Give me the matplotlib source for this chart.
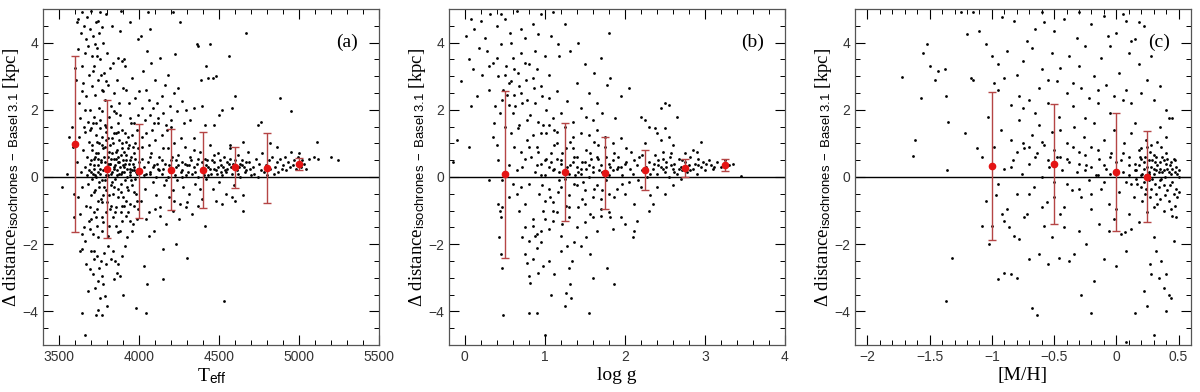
import matplotlib
matplotlib.use("Agg")
import matplotlib.pyplot as plt
from matplotlib.ticker import MultipleLocator, FuncFormatter

plt.rcParams["font.family"] = ["Liberation Sans", "DejaVu Sans"]
plt.rcParams["mathtext.fontset"] = "custom"
plt.rcParams["mathtext.rm"] = "Liberation Serif"
plt.rcParams["mathtext.it"] = "Liberation Serif:italic"
plt.rcParams["mathtext.sf"] = "Liberation Sans"
SERIF = ["Liberation Serif", "DejaVu Serif"]

# --- binned means with scatter (red points) ---
teff_bins = [3600, 3800, 4000, 4200, 4400, 4600, 4800, 5000]
teff_mean = [0.99, 0.24, 0.17, 0.22, 0.21, 0.29, 0.27, 0.39]
teff_sig = [2.62, 2.06, 1.40, 1.20, 1.12, 0.61, 1.04, 0.19]

logg_bins = [0.5, 1.25, 1.75, 2.25, 2.75, 3.25]
logg_mean = [0.08, 0.16, 0.12, 0.20, 0.27, 0.36]
logg_sig = [2.48, 1.46, 1.07, 0.60, 0.28, 0.19]

mh_bins = [-1.0, -0.5, 0.0, 0.25]
mh_mean = [0.32, 0.38, 0.15, 0.01]
mh_sig = [2.20, 1.78, 1.75, 1.35]

# --- individual stars ---
teff_pts = [
    (3610,4.6),(3620,4.7),(3635,4.3),(3645,4.9),(3655,4.5),(3665,4.1),(3672,4.75),(3680,3.9),
    (3690,4.4),(3700,4.95),(3705,3.6),(3712,4.2),(3720,3.3),(3728,4.6),(3735,3.85),(3742,2.9),
    (3750,4.3),(3758,3.5),(3765,2.6),(3772,4.0),(3780,3.1),(3788,2.3),(3795,4.85),(3800,3.7),
    (3808,2.75),(3815,3.25),(3822,2.1),(3830,4.5),(3838,3.4),(3845,2.5),(3852,1.9),(3860,2.9),
    (3868,3.55),(3876,2.2),(3884,4.95),(3892,3.45),(3900,2.65),(3640,3.3),(3650,2.8),(3660,3.7),
    (3670,2.4),(3685,3.05),(3695,2.0),(3708,2.7),(3716,1.8),(3724,2.45),(3732,1.6),(3738,3.6),
    (3746,2.05),(3754,1.7),(3762,3.05),(3770,1.95),(3776,2.55),(3784,1.55),(3792,2.85),(3598,3.25),
    (3606,2.9),(3615,3.8),(3625,2.2),(3632,1.75),(3642,2.55),(3652,1.5),(3662,2.0),(3677,1.65),
    (3698,1.45),(3710,3.15),(3726,3.95),(3744,4.65),(3756,4.9),(3768,4.45),(3790,1.35),(3810,1.8),
    (3826,1.5),(3840,1.95),(3856,1.3),(3870,1.6),(3882,1.85),(3895,1.4),
    (3610,0.45),(3618,-0.6),(3625,1.2),(3632,-1.1),(3638,0.15),(3645,-0.3),(3650,0.8),(3655,-1.5),
    (3660,0.3),(3664,1.35),(3668,-0.85),(3672,0.05),(3676,0.6),(3680,-0.2),(3684,1.05),(3688,-1.3),
    (3692,0.4),(3696,-0.55),(3700,0.15),(3704,0.95),(3708,-0.05),(3712,-1.7),(3716,0.55),(3720,0.25),
    (3724,-0.4),(3728,1.25),(3732,0.0),(3736,-0.95),(3740,0.7),(3744,0.35),(3748,-0.15),(3752,1.45),
    (3756,0.1),(3760,-0.65),(3764,0.5),(3768,-1.2),(3772,0.2),(3776,0.85),(3780,-0.3),(3784,0.45),
    (3788,-0.1),(3792,1.1),(3796,0.3),(3800,-0.75),(3804,0.6),(3808,0.05),(3812,-1.45),(3816,0.4),
    (3820,0.95),(3824,-0.25),(3828,0.15),(3832,0.7),(3836,-0.5),(3840,0.3),(3844,1.3),(3848,-0.05),
    (3852,0.55),(3856,-0.9),(3860,0.2),(3864,0.8),(3868,-0.35),(3872,0.45),(3876,0.1),(3880,-1.6),
    (3884,0.65),(3888,-0.2),(3892,1.0),(3896,0.35),(3900,-0.6),(3904,0.15),(3908,0.75),(3912,-0.1),
    (3916,0.5),(3920,-1.15),(3924,0.25),(3928,1.2),(3932,-0.4),(3936,0.4),(3940,0.05),(3944,-0.8),
    (3948,0.6),(3952,0.2),(3956,-0.25),(3960,0.9),(3964,-1.4),(3968,0.3),(3972,-0.05),(3976,0.55),
    (3980,-0.5),(3984,0.1),(3988,1.4),(3992,-0.95),(3996,0.45),
    (3700,0.5),(3720,0.35),(3740,0.15),(3760,0.45),(3780,0.6),(3800,0.2),(3820,0.4),(3840,0.55),
    (3860,0.05),(3880,0.3),(3900,0.5),(3920,0.65),(3940,0.25),(3960,0.4),(3980,0.15),(3710,0.1),
    (3730,0.7),(3750,-0.3),(3770,0.95),(3790,0.05),(3810,0.75),(3830,-0.15),(3850,0.35),(3870,0.6),
    (3890,0.15),(3910,0.4),(3930,0.85),(3950,-0.1),(3970,0.7),(3990,0.25),
    (3660,-1.9),(3690,-1.55),(3715,-1.05),(3745,-1.8),(3775,-1.35),(3805,-1.75),(3835,-1.2),
    (3865,-1.65),(3895,-1.3),(3925,-1.8),(3955,-1.6),(3985,-1.25),(3640,-1.7),(3700,-1.25),
    (3735,-1.45),(3765,-0.75),(3795,-1.05),(3825,-0.85),(3855,-1.45),(3885,-1.05),(3915,-0.7),
    (3945,-1.3),
    (3630,-2.2),(3645,-2.15),(3665,-2.6),(3700,-2.2),(3710,-2.9),(3718,-2.45),(3725,-3.3),
    (3735,-2.35),(3742,-3.1),(3750,-2.7),(3755,-3.6),(3762,-2.5),(3768,-2.95),(3775,-3.2),
    (3782,-2.25),(3788,-3.55),(3795,-2.6),(3800,-3.85),(3808,-2.05),(3822,-2.45),(3835,-2.2),
    (3845,-3.05),(3860,-2.85),(3868,-2.6),(3878,-2.95),(3890,-2.35),(3900,-3.5),(3910,-2.05),
    (3740,-3.95),(3770,-4.1),(3730,-4.1),(3660,-4.7),(3640,-4.05),(3680,-3.4),(3690,-2.75),
    (3715,-2.2),(3850,-2.5),
    (3905,3.5),(3912,3.3),(3920,2.6),(3935,2.2),(3945,1.75),(3958,2.95),(3965,1.6),(3975,2.35),
    (3990,1.85),(4000,2.55),(4010,4.2),(4015,2.05),(4025,3.15),(4035,1.7),(4040,2.6),(4050,3.75),
    (4055,4.9),(4060,2.3),(4068,1.85),(4075,3.4),(4085,2.05),(4095,1.6),(4100,2.9),(4110,2.2),
    (4120,1.75),(4130,3.55),(4140,2.4),(4150,1.9),(4160,2.75),(4170,1.55),(4180,3.05),(4190,2.1),
    (4200,1.7),(4210,4.9),(4215,2.5),(4225,3.65),(4235,1.95),(4245,2.65),(4255,4.6),(4265,2.25),
    (4280,1.6),(4295,2.0),(4320,1.7),(4340,2.05),(4360,3.95),(4370,3.9),(4385,2.9),(4395,2.1),
    (4410,1.55),(4420,3.3),(4430,2.95),(4445,3.95),(4460,2.95),(4480,3.0),(4500,1.85),(4520,2.0),
    (4560,3.6),(4600,2.4),(4580,2.05),(4470,1.55),(3990,4.1),(4070,4.4),(3940,4.6),(3880,4.35),
    (4005,0.2),(4012,-0.7),(4020,0.9),(4028,0.05),(4036,-0.35),(4044,1.3),(4052,0.45),(4060,-1.05),
    (4068,0.15),(4076,0.7),(4084,-0.15),(4092,0.35),(4100,1.1),(4108,-0.55),(4116,0.25),(4124,0.6),
    (4132,-0.9),(4140,0.1),(4148,0.85),(4156,-0.25),(4164,0.4),(4172,1.4),(4180,0.0),(4188,-0.6),
    (4196,0.5),(4204,0.2),(4212,-0.4),(4220,1.0),(4228,0.3),(4236,-0.1),(4244,0.65),(4252,-0.8),
    (4260,0.15),(4268,0.45),(4276,-0.3),(4284,0.9),(4292,0.05),(4300,0.35),(4310,-0.5),(4320,0.6),
    (4330,0.1),(4340,1.15),(4350,-0.2),(4360,0.4),(4370,0.0),(4380,0.75),(4390,-0.65),(4400,0.25),
    (4410,0.55),(4420,-0.05),(4430,0.3),(4440,0.95),(4450,0.1),(4460,-0.35),(4470,0.45),(4480,0.2),
    (4490,0.7),(4500,-0.15),(4510,0.35),(4520,0.05),(4530,0.6),(4540,-0.5),(4550,0.25),(4560,0.4),
    (4570,0.85),(4580,0.1),(4590,-0.25),(4600,0.5),(4610,0.2),(4620,0.65),(4630,0.0),(4640,0.35),
    (4650,-0.55),(4660,0.15),(4670,0.45),(4680,0.75),(4690,0.25),(4700,0.05),
    (4030,0.3),(4070,0.1),(4110,0.4),(4150,0.25),(4190,0.15),(4230,0.5),(4270,0.2),(4310,0.35),
    (4350,0.15),(4390,0.45),(4430,0.05),(4470,0.25),(4510,0.15),(4550,0.45),(4590,0.3),(4630,0.4),
    (4415,0.35),(4455,0.5),(4495,0.3),(4535,0.2),(4575,0.3),(4615,0.1),(4655,0.3),
    (4040,-1.25),(4090,-1.6),(4130,-1.15),(4170,-1.4),(4210,-1.0),(4250,-1.25),(4290,-0.9),
    (4330,-1.1),(4370,-0.85),(4410,-1.45),(4230,-2.0),(4060,-1.75),(4150,-2.15),(4480,-0.7),
    (4520,-0.8),(4580,-0.6),(4600,-0.7),(4650,-1.0),(4030,-2.65),(4050,-3.2),(4570,0.95),(4650,1.05),
    (4710,0.3),(4720,0.1),(4730,0.55),(4740,0.0),(4750,0.4),(4760,0.2),(4770,0.7),(4780,0.15),
    (4790,0.35),(4800,0.05),(4810,0.5),(4820,0.25),(4830,0.6),(4840,0.1),(4850,0.3),(4860,0.45),
    (4870,0.15),(4880,0.55),(4890,0.25),(4900,0.35),(4910,0.6),(4920,0.2),(4930,0.45),(4940,0.3),
    (4950,0.75),(4960,0.35),(4970,0.5),(4980,0.25),(4990,0.6),(5000,0.45),(5010,0.3),(5020,0.5),
    (5030,0.4),(5045,0.25),(5060,0.55),(5090,0.6),(5110,1.05),(5120,0.55),(5200,0.6),(5240,0.5),
    (5000,0.7),(4860,0.9),(4820,1.0),(4760,1.65),(4740,1.55),(4880,2.35),(4950,1.97),(4670,4.3),
    (4530,-3.7),(4300,-2.4),(4150,-3.05),(4040,-4.05),(3980,-3.9),(3520,-0.3),(3550,0.1),
    (3580,1.5),(3560,1.2),(3590,-0.5),(3585,0.9),(3595,-1.2),
]
teff_dense = [
    (3705,0.8),(3715,-0.45),(3725,0.6),(3735,1.05),(3745,-0.7),(3755,0.25),(3765,1.2),(3775,-0.55),
    (3785,0.9),(3795,-0.4),(3805,1.15),(3815,-0.95),(3825,0.55),(3835,1.0),(3845,-0.3),(3855,0.75),
    (3865,-0.6),(3875,1.1),(3885,-0.45),(3895,0.85),(3905,-0.85),(3915,1.05),(3925,-0.3),(3935,0.95),
    (3945,0.5),(3955,1.25),(3965,-0.45),(3975,1.0),(3985,-0.7),(3995,0.85),(3690,1.4),(3710,1.6),
    (3730,-1.2),(3750,1.0),(3770,-1.6),(3790,1.5),(3810,-0.55),(3830,1.15),(3850,-1.05),(3870,1.35),
    (3890,-0.85),(3910,1.3),(3930,-1.05),(3950,1.6),(3970,-0.85),(3685,0.2),(3695,-0.9),(3725,0.05),
    (3745,0.55),(3765,-0.1),(3785,0.25),(3805,0.4),(3825,0.1),(3845,0.25),(3865,0.45),(3885,0.1),
    (3905,0.3),(3925,0.0),(3945,0.15),(3965,0.2),
    (4015,0.55),(4045,0.1),(4065,0.6),(4085,0.3),(4105,0.0),(4125,0.2),(4145,0.5),(4165,-0.1),
    (4185,0.35),(4205,0.6),(4225,0.05),(4245,0.35),(4265,0.0),(4285,0.4),(4305,0.15),(4325,0.5),
    (4345,0.3),(4365,0.55),(4385,0.2),(4405,0.05),(4425,0.5),(4445,0.25),(4465,0.65),(4485,0.1),
    (4505,0.5),(4525,0.3),(4545,0.15),(4565,0.55),(4585,0.4),(4605,0.25),(4625,0.3),(4645,0.5),
    (4665,0.2),(4685,0.45),(4020,1.2),(4060,0.95),(4100,-0.95),(4140,1.25),(4180,0.85),(4220,-0.7),
    (4260,1.15),(4300,-0.75),(4340,0.8),(4380,-0.35),(4200,1.5),(4120,1.6),(4080,1.4),
]

logg_pts = [
    (0.02,4.2),(0.05,3.5),(0.08,4.7),(0.1,3.2),(0.12,4.4),(0.15,2.4),(0.18,3.85),(0.2,4.65),
    (0.22,3.05),(0.25,4.15),(0.28,3.75),(0.3,2.6),(0.32,4.85),(0.35,3.4),(0.38,2.1),(0.4,4.5),
    (0.42,3.0),(0.45,3.95),(0.47,2.3),(0.5,4.7),(0.52,3.3),(0.55,2.8),(0.57,4.3),(0.6,3.55),
    (0.62,2.45),(0.65,4.95),(0.67,3.1),(0.7,3.7),(0.72,2.2),(0.75,4.15),(0.77,2.9),(0.8,3.35),
    (0.82,1.85),(0.85,4.55),(0.87,2.65),(0.9,3.2),(0.92,1.65),(0.95,4.85),(0.97,2.4),(1.0,3.6),
    (1.02,2.0),(1.05,3.05),(1.08,4.2),(1.1,1.75),(1.15,2.55),(1.18,3.6),(1.2,1.9),(1.25,4.55),
    (1.28,2.25),(1.32,3.75),(1.35,1.65),(1.4,2.8),(1.42,4.0),(1.45,2.05),(1.5,3.35),(1.52,1.8),
    (1.55,2.5),(1.6,1.7),(1.62,3.1),(1.65,2.2),(1.7,3.55),(1.72,1.9),(1.78,2.75),(1.8,4.3),
    (1.82,2.95),(1.88,1.75),(1.95,2.4),(2.05,2.65),(2.2,1.8),(2.25,1.7),(2.3,1.5),(2.38,1.45),
    (2.45,2.05),(2.5,2.2),(0.48,2.6),(0.58,2.85),(0.53,2.45),(0.63,2.1),(0.44,1.9),(0.68,1.55),
    (0.78,1.7),(0.88,2.2),(0.98,1.55),(0.36,1.6),(0.6,1.9),(0.7,2.5),(0.85,2.95),(0.75,3.4),
    (1.1,4.9),(1.17,3.95),(1.12,1.4),(0.92,4.25),(0.45,4.85),(0.7,4.4),(-0.15,0.45),(-0.05,2.85),
    (0.05,0.9),(-0.1,1.1),(0.08,2.1),
    (0.72,0.3),(0.75,-0.8),(0.78,1.1),(0.8,-0.2),(0.83,0.6),(0.85,-1.25),(0.88,0.15),(0.9,0.9),
    (0.93,-0.5),(0.95,0.4),(0.98,-1.0),(1.0,0.05),(1.02,1.3),(1.05,-0.35),(1.08,0.7),(1.1,-0.75),
    (1.12,0.25),(1.15,1.0),(1.18,-0.1),(1.2,0.5),(1.22,-1.4),(1.25,0.2),(1.27,0.85),(1.3,-0.55),
    (1.32,0.35),(1.35,1.2),(1.37,-0.2),(1.4,0.6),(1.42,-0.9),(1.45,0.1),(1.47,0.45),(1.5,-0.4),
    (1.52,0.8),(1.55,0.0),(1.57,-1.1),(1.6,0.3),(1.62,1.05),(1.65,-0.25),(1.67,0.55),(1.7,-0.65),
    (1.72,0.15),(1.75,0.9),(1.77,-0.1),(1.8,0.4),(1.82,-1.2),(1.85,0.2),(1.87,0.7),(1.9,-0.35),
    (1.92,0.3),(1.95,1.15),(1.97,0.05),(2.0,-0.5),(2.02,0.45),(2.05,-0.15),(2.08,0.75),(2.1,0.1),
    (2.12,-0.8),(2.15,0.35),(2.18,0.6),(2.2,-0.3),(2.22,0.2),(2.25,1.0),(2.28,0.0),(2.3,0.45),
    (2.32,-0.55),(2.35,0.25),(2.38,0.65),
    (0.9,0.35),(1.0,0.5),(1.1,0.2),(1.2,0.4),(1.3,0.1),(1.4,0.3),(1.5,0.45),(1.6,0.15),
    (1.7,0.35),(1.8,0.05),(1.9,0.25),(2.0,0.4),(0.95,0.05),(1.05,0.3),(1.15,0.55),(1.25,-0.05),
    (1.35,0.45),(1.45,0.25),(1.55,0.35),(1.65,0.6),(1.75,0.1),(1.85,0.5),(1.95,0.3),(1.38,0.05),
    (1.48,-0.15),(1.58,0.55),(1.68,0.2),(1.28,0.3),(1.18,0.15),(1.08,0.45),
    (0.75,-1.5),(0.8,-1.9),(0.85,-1.45),(0.9,-1.7),(0.95,-1.6),(1.0,-1.25),(1.05,-1.55),(1.1,-1.3),
    (1.15,-1.05),(1.2,-1.75),(1.3,-1.2),(1.4,-1.5),(1.5,-1.35),(1.6,-1.2),(1.7,-1.15),(1.8,-1.05),
    (0.65,-0.5),(0.6,-0.2),(0.55,0.35),(0.62,0.9),(0.58,1.3),(0.68,-1.0),(0.5,1.5),(0.4,0.95),
    (0.35,1.2),(0.42,0.5),(0.3,-0.1),(0.46,-0.1),(0.7,0.75),(0.66,1.45),(0.55,-0.6),
    (0.42,-0.8),(0.44,-1.0),(0.45,-1.2),(0.46,-0.9),(0.43,-1.8),(0.45,-2.3),(0.47,-2.7),(0.48,-4.1),
    (0.72,-1.8),(0.75,-2.3),(0.78,-2.55),(0.8,-2.95),(0.82,-3.15),(0.85,-2.45),(0.88,-1.75),
    (0.9,-2.1),(0.92,-2.85),(0.95,-1.95),(0.98,-2.65),(1.05,-2.5),(1.08,-3.5),(1.12,-2.9),
    (1.2,-2.2),(1.25,-3.85),(1.27,-3.45),(1.3,-2.7),(1.32,-3.2),(1.33,-3.6),(1.34,-2.5),
    (1.36,-1.95),(1.28,-2.05),(0.8,-4.05),(0.9,-4.05),(1.0,-4.7),(1.55,-4.05),(1.87,-3.2),
    (1.6,-3.0),(1.78,-2.7),(1.57,-2.3),(1.52,-1.8),(1.65,-1.6),(1.45,-2.05),(1.85,-1.55),
    (1.95,-1.2),(2.1,-1.8),(2.12,-1.6),(2.0,-1.4),(2.15,-1.3),(2.3,-1.0),
    (2.4,0.1),(2.42,0.5),(2.45,0.3),(2.48,0.75),(2.5,0.15),(2.52,0.45),(2.55,0.0),(2.57,0.6),
    (2.6,0.25),(2.62,0.4),(2.65,0.1),(2.68,0.55),(2.7,0.3),(2.72,0.2),(2.75,0.45),(2.78,0.15),
    (2.8,0.35),(2.82,0.6),(2.85,0.25),(2.88,0.4),(2.9,0.1),(2.92,0.55),(2.95,0.3),(2.98,0.45),
    (3.0,0.2),(3.05,0.5),(3.08,0.35),(3.1,0.25),(3.15,0.45),(3.2,0.3),(3.25,0.5),(3.3,0.35),
    (3.35,0.4),(2.9,0.75),(2.85,0.8),(2.6,0.95),(2.55,1.2),(2.5,1.45),(2.45,1.1),(2.4,-0.3),
    (2.5,-0.5),(2.6,-0.25),(2.35,-0.8),(2.7,-0.05),(2.95,1.05),(3.45,0.03),(2.65,1.8),(2.55,2.15),
    (2.4,1.3),(2.75,0.7),(2.48,0.25),(2.58,0.35),(2.68,0.25),(2.78,0.3),
]
logg_dense = [
    (0.92,0.75),(0.97,-0.25),(1.02,0.55),(1.07,-0.6),(1.12,0.95),(1.17,-0.45),(1.22,0.7),(1.27,-0.85),
    (1.32,1.05),(1.37,0.6),(1.42,0.15),(1.47,-0.65),(1.52,0.25),(1.57,0.7),(1.62,-0.35),(1.67,0.95),
    (1.72,-0.4),(1.77,0.6),(1.82,0.3),(1.87,-0.6),(1.92,0.6),(1.97,-0.2),(2.02,0.85),(2.07,0.25),
    (2.12,0.5),(2.17,-0.1),(2.22,0.65),(2.27,0.3),(2.32,0.1),(2.37,0.4),(0.95,1.3),(1.05,1.55),
    (1.15,1.35),(1.25,1.5),(1.35,0.85),(1.45,1.3),(1.55,1.25),(1.65,1.4),(1.75,1.2),(1.85,1.0),
    (0.85,1.25),(0.75,0.55),(0.8,0.9),(0.7,-0.3),(0.65,0.2),(1.0,-0.7),(1.1,-1.0),(1.2,-0.3),
    (1.3,-0.9),(1.4,-0.25),(1.5,-0.8),(1.6,-0.6),(1.7,-0.95),(1.8,-0.5),(0.5,3.05),(0.55,2.15),
    (0.62,3.2),(0.68,2.7),(0.78,2.3),(0.4,3.55),(0.3,3.3),(0.58,4.0),(0.88,3.75),(0.95,2.7),
    (1.05,2.35),(2.42,0.35),(2.52,0.3),(2.62,0.15),(2.72,0.5),(2.82,0.2),(2.92,0.35),(3.02,0.4),
    (3.12,0.3),(2.58,0.7),(2.48,0.55),
]

mh_pts = [
    (-1.72,2.98),(-1.63,0.62),(-1.62,1.1),(-1.57,2.35),(-1.55,3.7),(-1.52,3.95),(-1.5,3.3),
    (-1.46,2.88),(-1.43,3.15),(-1.38,3.2),(-1.37,2.4),(-1.36,0.2),(-1.35,1.65),(-1.32,-2.4),
    (-1.37,-3.7),(-1.22,1.3),(-1.2,4.25),(-1.17,2.95),(-1.15,2.9),(-1.12,0.85),(-1.25,4.9),(-1.15,4.9),
    (-1.1,4.35),(-1.05,3.95),(-1.0,3.6),(-0.98,2.8),(-0.95,3.35),(-0.92,4.75),(-0.9,2.95),(-0.88,3.75),
    (-0.85,2.15),(-0.82,4.65),(-0.8,3.05),(-0.78,2.4),(-0.75,3.45),(-0.72,4.05),(-0.7,2.3),(-0.68,3.85),
    (-0.65,4.4),(-0.62,2.65),(-0.6,3.2),(-0.58,4.6),(-0.55,2.2),(-0.52,3.7),(-0.5,4.35),(-0.48,2.85),
    (-0.45,3.25),(-0.42,4.7),(-0.4,2.5),(-0.38,3.6),(-0.35,2.1),(-0.32,4.15),(-0.3,3.3),(-0.28,2.65),
    (-0.25,3.9),(-0.22,2.35),(-0.2,4.55),(-0.18,3.0),(-0.15,2.2),(-0.12,3.55),(-0.1,4.8),(-0.08,2.75),
    (-0.05,3.9),(-0.02,2.4),(0.0,4.3),(0.02,3.1),(0.05,4.85),(0.08,2.6),(0.1,3.7),(0.12,2.2),
    (0.15,4.1),(0.18,3.35),(0.2,2.5),(0.22,4.5),(0.25,2.9),(0.28,3.6),(0.3,2.3),(0.35,2.7),
    (0.4,2.0),(0.45,1.75),(-0.95,2.6),(-0.75,2.05),(-0.55,2.9),(-0.35,2.8),(-0.15,2.6),(0.05,2.3),
    (-0.6,4.9),(-0.3,4.9),(0.08,4.65),(0.12,4.05),(-0.07,4.2),(0.18,4.6),
    (-1.08,0.6),(-1.05,-0.7),(-1.03,1.8),(-1.0,-1.45),(-0.98,0.9),(-0.95,-0.2),(-0.93,1.4),(-0.9,0.25),
    (-0.88,-0.95),(-0.85,1.1),(-0.83,0.5),(-0.8,-0.5),(-0.78,1.7),(-0.76,0.1),(-0.74,0.85),(-0.72,-1.1),
    (-0.7,0.4),(-0.68,1.25),(-0.66,-0.3),(-0.64,0.7),(-0.62,1.55),(-0.6,0.0),(-0.58,0.95),(-0.56,-0.75),
    (-0.54,0.3),(-0.52,1.35),(-0.5,-0.15),(-0.48,0.6),(-0.46,1.8),(-0.44,0.2),(-0.42,-0.9),(-0.4,1.0),
    (-0.38,0.45),(-0.36,-0.4),(-0.34,1.5),(-0.32,0.15),(-0.3,0.75),(-0.28,-0.6),(-0.26,1.2),(-0.24,0.35),
    (-0.22,-0.1),(-0.2,0.9),(-0.18,1.6),(-0.16,0.05),(-0.14,0.55),(-0.12,-0.35),(-0.1,1.1),(-0.08,0.25),
    (-0.06,-0.8),(-0.04,0.7),(-0.02,1.4),(0.0,0.1),(0.02,-0.45),(0.04,0.5),(0.06,1.0),(0.08,-0.15),
    (0.1,0.35),(0.12,1.3),(0.14,-0.6),(0.16,0.2),(0.18,0.8),(0.2,-0.3),(0.22,0.45),(0.24,1.1),
    (0.26,-0.1),(0.28,0.3),(0.3,0.65),(0.32,-0.5),(0.34,0.15),(0.36,0.9),(0.38,-0.25),(0.4,0.4),
    (0.42,-0.7),(0.44,0.1),(0.46,0.55),(0.48,-0.35),(0.5,0.2),
    (0.15,0.4),(0.17,-0.2),(0.19,0.6),(0.21,0.1),(0.23,-0.5),(0.25,0.3),(0.27,0.75),(0.29,-0.05),
    (0.31,0.45),(0.33,-0.8),(0.35,0.25),(0.37,0.6),(0.39,0.0),(0.41,-0.4),(0.43,0.35),(0.45,-0.15),
    (0.47,0.5),(0.49,-0.6),(0.2,0.55),(0.24,0.05),(0.28,-0.35),(0.32,0.2),(0.36,-0.05),(0.4,0.7),
    (0.44,-0.95),(0.48,0.3),(0.26,0.5),(0.3,0.1),(0.34,-0.3),(0.38,0.5),(0.42,0.15),(0.46,-0.5),
    (0.22,0.25),(0.3,-0.9),(0.38,-1.0),(0.45,-1.15),(0.48,-1.2),(0.35,-0.65),(0.25,0.9),(0.33,1.05),
    (0.4,1.2),(0.42,1.75),(0.28,0.95),(0.2,0.05),(0.16,-0.05),(0.1,0.05),(0.05,0.15),(-0.05,0.1),
    (-0.15,0.05),(-0.25,0.2),
    (-1.08,-1.45),(-1.02,-2.0),(-0.97,-0.55),(-0.92,-1.1),(-0.86,-1.5),(-0.82,-1.75),(-0.78,-1.85),
    (-0.74,-1.2),(-0.7,-2.45),(-0.68,-3.9),(-0.64,-4.1),(-0.62,-2.3),(-0.58,-1.45),(-0.55,-2.6),
    (-0.52,-1.8),(-0.46,-2.4),(-0.42,-1.5),(-0.38,-2.5),(-0.34,-2.3),(-0.3,-1.6),(-0.28,-3.5),
    (-0.24,-2.0),(-0.2,-4.05),(-0.18,-3.1),(-0.14,-1.4),(-0.1,-2.45),(-0.06,-1.6),(-0.02,-1.25),
    (0.0,-2.65),(0.04,-1.7),(0.08,-2.2),(0.12,-1.55),(0.15,-4.05),(0.18,-1.35),(0.22,-3.4),
    (0.25,-3.85),(0.27,-2.6),(0.3,-4.7),(0.3,-1.8),(0.32,-2.2),(0.34,-3.0),(0.36,-2.5),(0.38,-3.3),
    (0.4,-2.9),(0.42,-3.5),(0.44,-3.6),(0.46,-1.9),(0.28,-2.9),(0.4,-4.0),(-0.9,-2.85),(-0.85,-2.9),
    (-0.8,-3.0),(-0.95,-3.05),(-0.45,-1.1),(-0.2,-0.95),(0.08,-4.9),(0.25,-1.05),(0.07,-1.65),
]
mh_dense = [
    (-0.8,0.75),(-0.75,1.0),(-0.7,0.9),(-0.65,0.6),(-0.6,1.05),(-0.55,0.5),(-0.5,0.8),(-0.45,0.6),
    (-0.4,0.55),(-0.35,0.9),(-0.3,0.4),(-0.25,0.65),(-0.2,0.3),(-0.15,0.8),(-0.1,0.35),(-0.05,0.6),
    (0.0,0.45),(0.05,0.7),(0.1,0.6),(0.15,0.2),(0.2,0.85),(0.23,0.6),(0.26,0.15),(0.29,0.5),
    (0.32,0.6),(0.35,0.45),(0.38,0.2),(0.41,0.55),(0.44,0.45),(0.47,0.15),(0.5,0.0),(0.21,-0.7),
    (0.24,-0.35),(0.27,-0.6),(0.31,-0.2),(0.35,-0.1),(0.39,-0.55),(0.43,-0.25),(0.47,-0.85),
    (0.5,-0.45),(0.22,-0.15),(0.26,0.1),(0.33,0.35),(0.37,0.15),(0.41,0.25),(0.45,0.25),(0.49,0.1),
    (0.3,0.25),(0.18,0.35),(0.12,-0.2),(-0.7,-0.5),(-0.6,-0.9),(-0.5,-0.6),(-0.4,-0.2),(-0.3,-0.35),
    (-0.2,-0.5),(-0.1,-0.15),(0.0,-0.95),(0.1,-1.1),(-0.9,-1.3),(-0.85,0.3),(-0.65,1.9),(-0.45,1.4),
    (-0.25,1.75),(-0.05,1.9),(0.15,1.6),(0.35,1.5),
]

panels = [
    (teff_pts + teff_dense, teff_bins, teff_mean, teff_sig, r"T$_{\mathsf{eff}}$", "(a)",
     (3400, 5500), 500, 100),
    (logg_pts + logg_dense, logg_bins, logg_mean, logg_sig, "log g", "(b)",
     (-0.2, 4.0), 1, 0.2),
    (mh_pts + mh_dense, mh_bins, mh_mean, mh_sig, "[M/H]", "(c)",
     (-2.1, 0.6), 0.5, 0.1),
]

tick_fmt = FuncFormatter(lambda v, p: f"{v:g}".replace("-", "\u2212"))
ylab = r"$\Delta$ distance$_{\mathsf{isochrones\ -\ Basel\ 3.1}}$ [kpc]"

fig = plt.figure(figsize=(12, 3.92), dpi=100)
lefts = [0.036, 0.374, 0.7125]

for left, (pts, bx, bm, bs, xlab, tag, xlim, maj, mnr) in zip(lefts, panels):
    ax = fig.add_axes([left, 0.12, 0.28, 0.857])
    xs = [p[0] for p in pts]
    ys = [p[1] for p in pts]
    ax.scatter(xs, ys, s=4, c="black", linewidths=0, zorder=2)
    ax.axhline(0, color="black", lw=1.0, zorder=1)
    ax.errorbar(bx, bm, yerr=bs, fmt="none", ecolor="#b54545", elinewidth=1.0,
                capsize=3, capthick=1.0, zorder=3)
    ax.plot(bx, bm, "o", color="#e41414", ms=4.5, zorder=4)

    ax.set_xlim(*xlim)
    ax.set_ylim(-5, 5)
    ax.xaxis.set_major_locator(MultipleLocator(maj))
    ax.xaxis.set_minor_locator(MultipleLocator(mnr))
    ax.yaxis.set_major_locator(MultipleLocator(2))
    ax.yaxis.set_minor_locator(MultipleLocator(0.5))
    ax.xaxis.set_major_formatter(tick_fmt)
    ax.yaxis.set_major_formatter(tick_fmt)
    ax.tick_params(which="both", direction="in", top=True, right=True,
                   labelsize=10, colors="black", labelcolor="#333333")
    ax.tick_params(which="major", length=7, width=0.8)
    ax.tick_params(which="minor", length=3.5, width=0.7)
    for sp in ax.spines.values():
        sp.set_color("#555555")
        sp.set_linewidth(0.9)

    ax.set_xlabel(xlab, fontsize=14, labelpad=2, family=SERIF)
    ax.set_ylabel(ylab, fontsize=13.5, family=SERIF)
    ax.yaxis.set_label_coords(-0.062, 0.5)
    ax.text(0.905, 0.9, tag, transform=ax.transAxes, fontsize=14,
            ha="center", va="center", family=SERIF)

fig.savefig("out.png", dpi=100)
